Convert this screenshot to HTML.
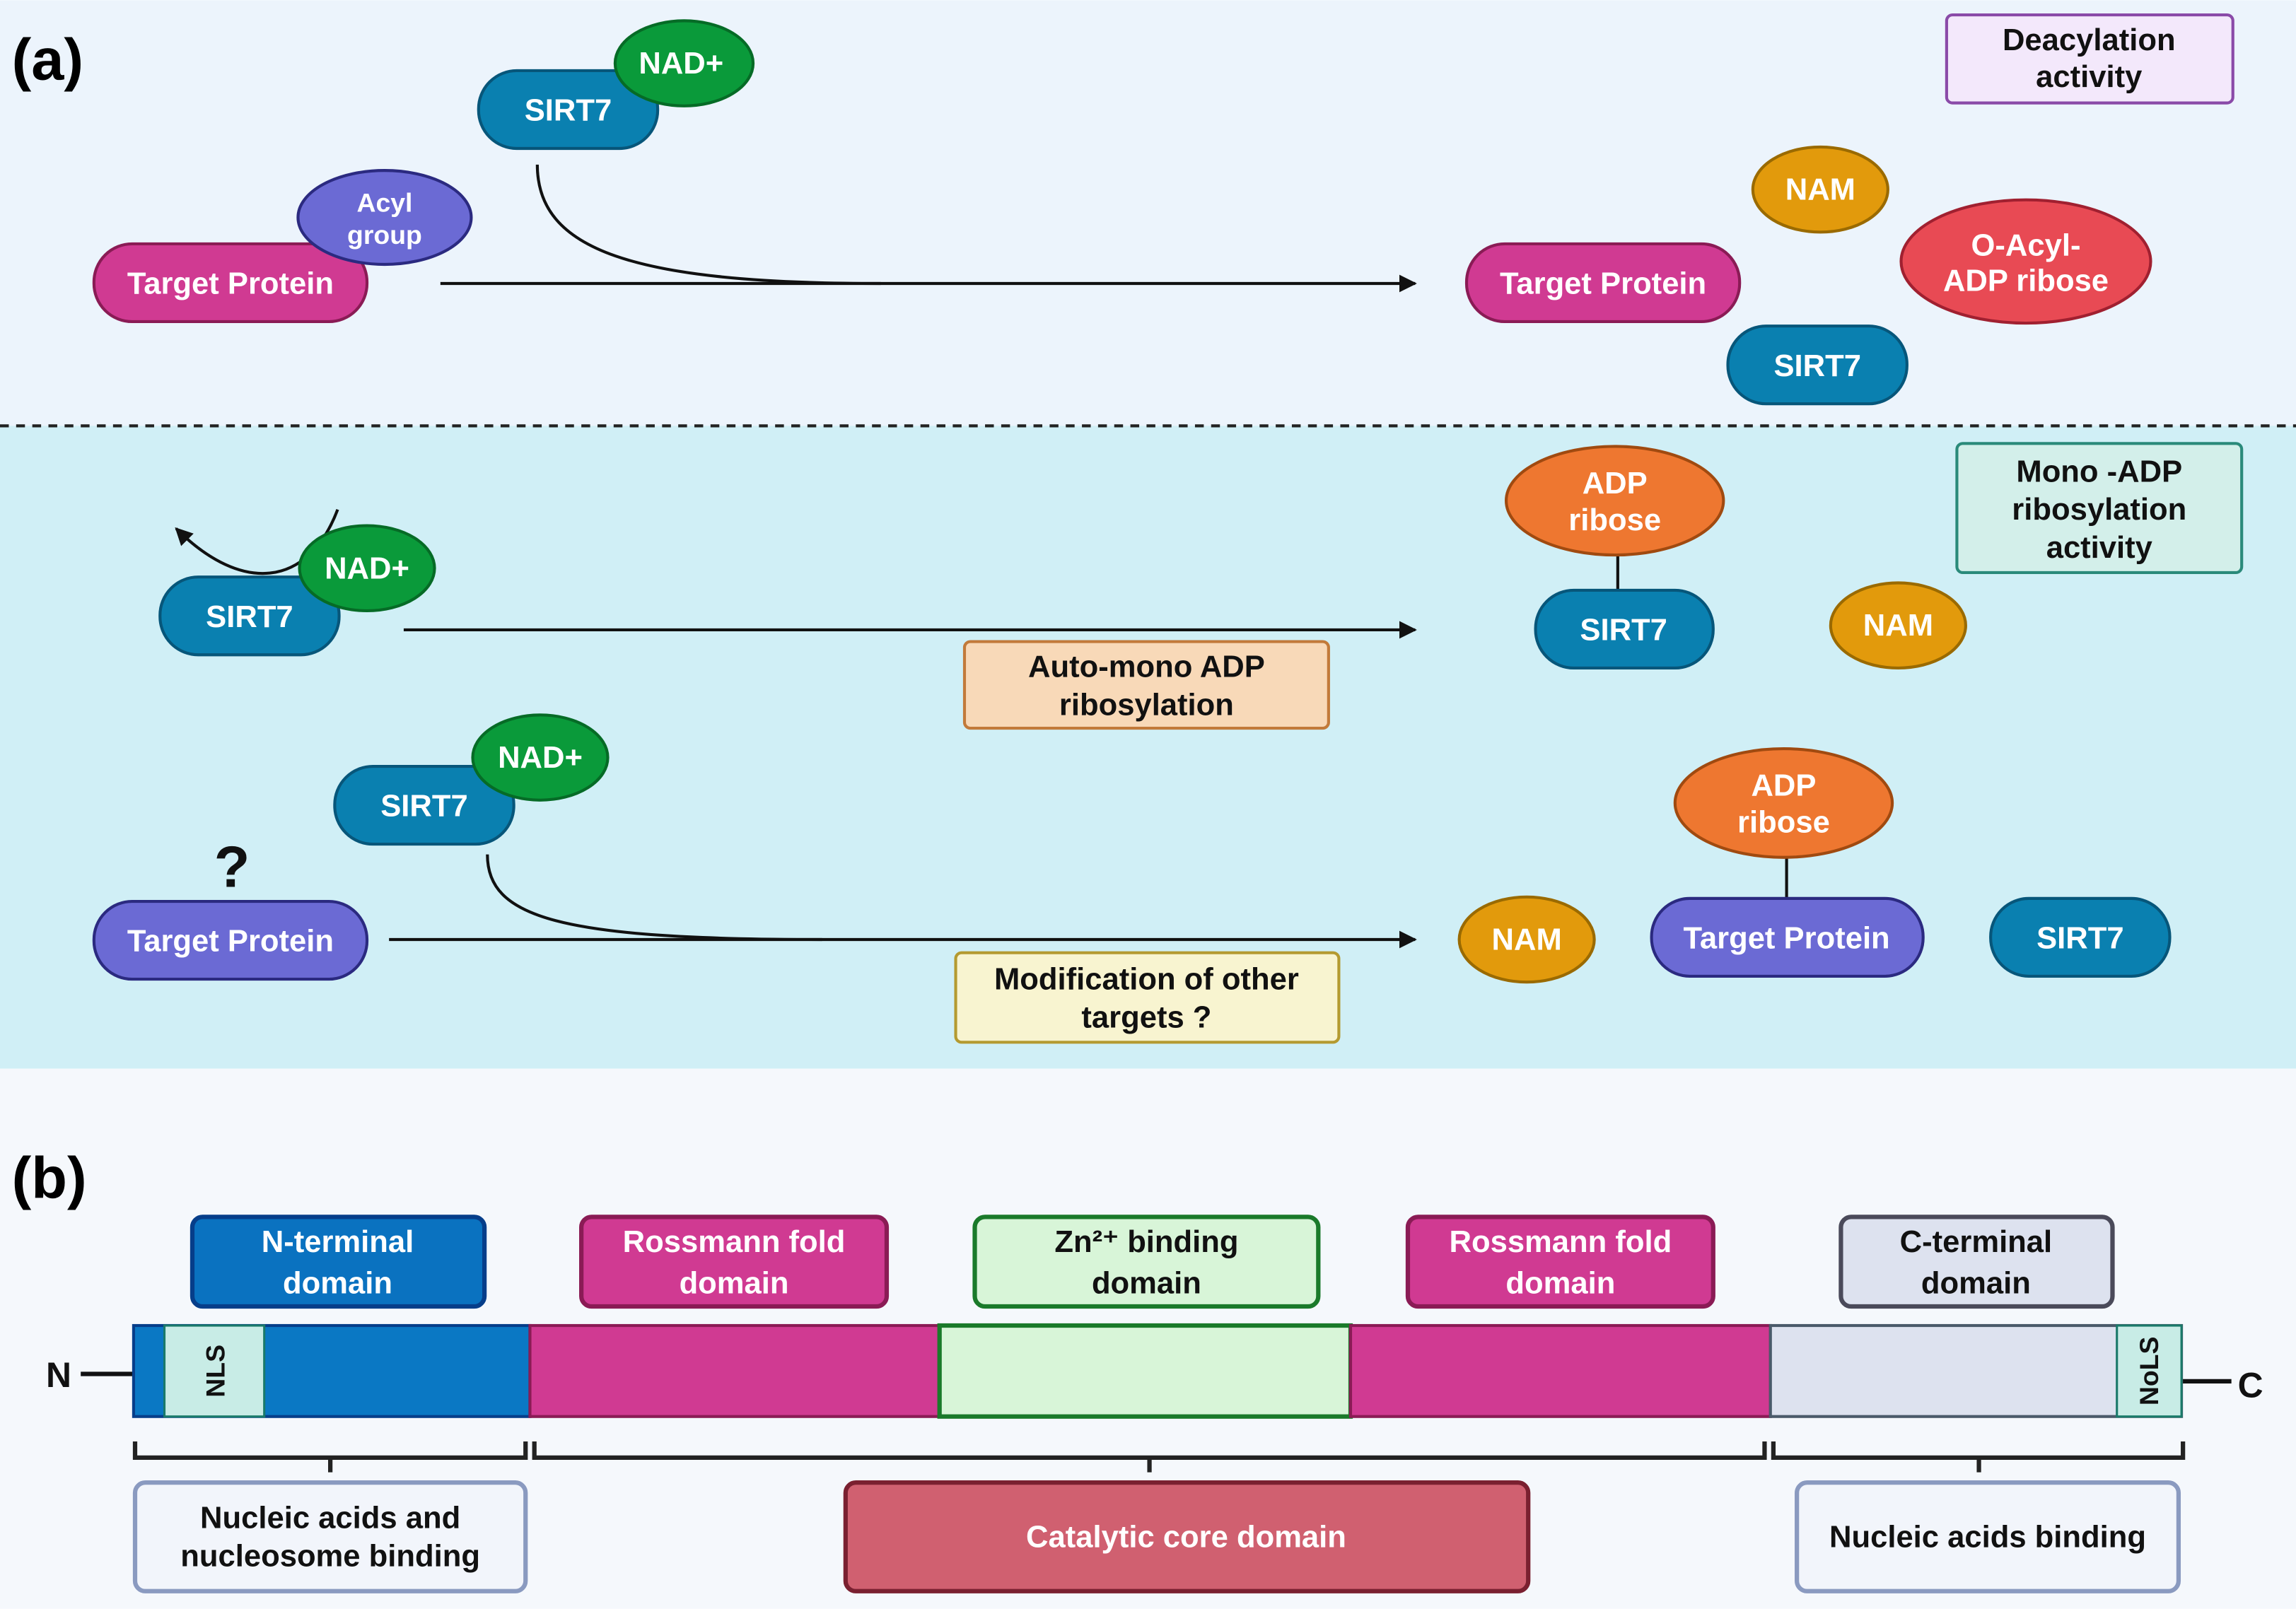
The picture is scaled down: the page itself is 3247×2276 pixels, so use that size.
<!DOCTYPE html>
<html><head><meta charset="utf-8"><style>html,body{margin:0;padding:0}svg{display:block}text{font-family:"Liberation Sans",sans-serif;font-weight:bold}</style></head><body>
<svg width="3247" height="2276" viewBox="0 0 1564 1096" xmlns="http://www.w3.org/2000/svg">
<defs><marker id="ah" viewBox="0 0 10 10" refX="9" refY="5" markerWidth="6" markerHeight="6" orient="auto"><path d="M0,0L10,5L0,10z" fill="#111"/></marker></defs>
<rect x="0" y="0" width="1564" height="290" fill="#ecf4fc"/>
<rect x="0" y="290" width="1564" height="438" fill="#d0eff6"/>
<rect x="0" y="728" width="1564" height="368" fill="#f5f8fc"/>
<line x1="0" y1="290" x2="1564" y2="290" stroke="#222" stroke-width="2" stroke-dasharray="6,5"/>
<text x="8" y="54" font-size="40">(a)</text>
<text x="8" y="816" font-size="40">(b)</text>
<g font-size="21" text-anchor="middle">
<path d="M366,112 C366,170 430,193 600,193" fill="none" stroke="#111" stroke-width="2"/>
<line x1="300" y1="193" x2="964" y2="193" stroke="#111" stroke-width="2" marker-end="url(#ah)"/>
<rect x="326" y="48" width="122" height="53" rx="26" fill="#0a80b0" stroke="#07567a" stroke-width="2"/>
<text x="387" y="82" fill="#fff">SIRT7</text>
<ellipse cx="466" cy="43" rx="47" ry="29" fill="#0a9a3a" stroke="#066b26" stroke-width="2"/>
<text x="464" y="50" fill="#fff">NAD+</text>
<rect x="64" y="166" width="186" height="53" rx="26" fill="#d03a92" stroke="#8a1b55" stroke-width="2"/>
<text x="157" y="200" fill="#fff">Target Protein</text>
<ellipse cx="262" cy="148" rx="59" ry="32" fill="#6b6ad4" stroke="#2b2a80" stroke-width="2"/>
<text x="262" y="144" fill="#fff" font-size="18">Acyl</text>
<text x="262" y="166" fill="#fff" font-size="18">group</text>
<rect x="999" y="166" width="186" height="53" rx="26" fill="#d03a92" stroke="#8a1b55" stroke-width="2"/>
<text x="1092" y="200" fill="#fff">Target Protein</text>
<ellipse cx="1240" cy="129" rx="46" ry="29" fill="#e29a0c" stroke="#9a6a00" stroke-width="2"/>
<text x="1240" y="136" fill="#fff">NAM</text>
<ellipse cx="1380" cy="178" rx="85" ry="42" fill="#e84a54" stroke="#a02030" stroke-width="2"/>
<text x="1380" y="174" fill="#fff">O-Acyl-</text>
<text x="1380" y="198" fill="#fff">ADP ribose</text>
<rect x="1177" y="222" width="122" height="53" rx="26" fill="#0a80b0" stroke="#07567a" stroke-width="2"/>
<text x="1238" y="256" fill="#fff">SIRT7</text>
<rect x="1326" y="10" width="195" height="60" rx="4" fill="#f3e8fb" stroke="#8a4aa8" stroke-width="2"/>
<text x="1423" y="34" fill="#111">Deacylation</text>
<text x="1423" y="59" fill="#111">activity</text>
<path d="M230,347 C210,400 165,405 120,360" fill="none" stroke="#111" stroke-width="2" marker-end="url(#ah)"/>
<line x1="275" y1="429" x2="964" y2="429" stroke="#111" stroke-width="2" marker-end="url(#ah)"/>
<rect x="109" y="393" width="122" height="53" rx="26" fill="#0a80b0" stroke="#07567a" stroke-width="2"/>
<text x="170" y="427" fill="#fff">SIRT7</text>
<ellipse cx="250" cy="387" rx="46" ry="29" fill="#0a9a3a" stroke="#066b26" stroke-width="2"/>
<text x="250" y="394" fill="#fff">NAD+</text>
<rect x="657" y="437" width="248" height="59" rx="4" fill="#f8d9b8" stroke="#c27a3a" stroke-width="2"/>
<text x="781" y="461" fill="#111">Auto-mono ADP</text>
<text x="781" y="487" fill="#111">ribosylation</text>
<line x1="1102" y1="378" x2="1102" y2="402" stroke="#111" stroke-width="2"/>
<ellipse cx="1100" cy="341" rx="74" ry="37" fill="#ee7730" stroke="#a04a10" stroke-width="2"/>
<text x="1100" y="336" fill="#fff">ADP</text>
<text x="1100" y="361" fill="#fff">ribose</text>
<rect x="1046" y="402" width="121" height="53" rx="26" fill="#0a80b0" stroke="#07567a" stroke-width="2"/>
<text x="1106" y="436" fill="#fff">SIRT7</text>
<ellipse cx="1293" cy="426" rx="46" ry="29" fill="#e29a0c" stroke="#9a6a00" stroke-width="2"/>
<text x="1293" y="433" fill="#fff">NAM</text>
<rect x="1333" y="302" width="194" height="88" rx="4" fill="#d3efea" stroke="#2a8a7a" stroke-width="2"/>
<text x="1430" y="328" fill="#111">Mono -ADP</text>
<text x="1430" y="354" fill="#111">ribosylation</text>
<text x="1430" y="380" fill="#111">activity</text>
<path d="M332,582 C332,625 380,640 560,640" fill="none" stroke="#111" stroke-width="2"/>
<line x1="265" y1="640" x2="964" y2="640" stroke="#111" stroke-width="2" marker-end="url(#ah)"/>
<rect x="228" y="522" width="122" height="53" rx="26" fill="#0a80b0" stroke="#07567a" stroke-width="2"/>
<text x="289" y="556" fill="#fff">SIRT7</text>
<ellipse cx="368" cy="516" rx="46" ry="29" fill="#0a9a3a" stroke="#066b26" stroke-width="2"/>
<text x="368" y="523" fill="#fff">NAD+</text>
<text x="158" y="604" font-size="40" fill="#111">?</text>
<rect x="64" y="614" width="186" height="53" rx="26" fill="#6b6ad4" stroke="#2b2a80" stroke-width="2"/>
<text x="157" y="648" fill="#fff">Target Protein</text>
<rect x="651" y="649" width="261" height="61" rx="4" fill="#f8f4d0" stroke="#b49a30" stroke-width="2"/>
<text x="781" y="674" fill="#111">Modification of other</text>
<text x="781" y="700" fill="#111">targets ?</text>
<ellipse cx="1040" cy="640" rx="46" ry="29" fill="#e29a0c" stroke="#9a6a00" stroke-width="2"/>
<text x="1040" y="647" fill="#fff">NAM</text>
<line x1="1217" y1="584" x2="1217" y2="612" stroke="#111" stroke-width="2"/>
<ellipse cx="1215" cy="547" rx="74" ry="37" fill="#ee7730" stroke="#a04a10" stroke-width="2"/>
<text x="1215" y="542" fill="#fff">ADP</text>
<text x="1215" y="567" fill="#fff">ribose</text>
<rect x="1125" y="612" width="185" height="53" rx="26" fill="#6b6ad4" stroke="#2b2a80" stroke-width="2"/>
<text x="1217" y="646" fill="#fff">Target Protein</text>
<rect x="1356" y="612" width="122" height="53" rx="26" fill="#0a80b0" stroke="#07567a" stroke-width="2"/>
<text x="1417" y="646" fill="#fff">SIRT7</text>
<rect x="131" y="829" width="199" height="61" rx="7" fill="#0a72c0" stroke="#063e8a" stroke-width="3"/>
<text x="230" y="853" fill="#fff">N-terminal</text><text x="230" y="881" fill="#fff">domain</text>
<rect x="396" y="829" width="208" height="61" rx="7" fill="#d03a92" stroke="#8a1b55" stroke-width="3"/>
<text x="500" y="853" fill="#fff">Rossmann fold</text><text x="500" y="881" fill="#fff">domain</text>
<rect x="664" y="829" width="234" height="61" rx="7" fill="#d8f5d8" stroke="#1a7a2a" stroke-width="3"/>
<text x="781" y="853" fill="#111">Zn²⁺ binding</text><text x="781" y="881" fill="#111">domain</text>
<rect x="959" y="829" width="208" height="61" rx="7" fill="#d03a92" stroke="#8a1b55" stroke-width="3"/>
<text x="1063" y="853" fill="#fff">Rossmann fold</text><text x="1063" y="881" fill="#fff">domain</text>
<rect x="1254" y="829" width="185" height="61" rx="7" fill="#dde2ef" stroke="#4a4a5a" stroke-width="3"/>
<text x="1346" y="853" fill="#111">C-terminal</text><text x="1346" y="881" fill="#111">domain</text>
<line x1="55" y1="936" x2="91" y2="936" stroke="#111" stroke-width="3"/>
<text x="40" y="945" font-size="24" fill="#111">N</text>
<line x1="1486" y1="941" x2="1520" y2="941" stroke="#111" stroke-width="3"/>
<text x="1533" y="952" font-size="24" fill="#111">C</text>
<rect x="91" y="903" width="270" height="62" fill="#0a78c4" stroke="#063e8a" stroke-width="2"/>
<rect x="112" y="903" width="68" height="62" fill="#c8ece6" stroke="#1a7a6a" stroke-width="1.5"/>
<text transform="translate(153,934) rotate(-90)" font-size="18" fill="#111">NLS</text>
<rect x="361" y="903" width="279" height="62" fill="#d03a92" stroke="#8a1b55" stroke-width="2"/>
<rect x="640" y="903" width="280" height="62" fill="#d8f5d8" stroke="#1a7a2a" stroke-width="3"/>
<rect x="920" y="903" width="286" height="62" fill="#d03a92" stroke="#8a1b55" stroke-width="2"/>
<rect x="1206" y="903" width="280" height="62" fill="#dde2ef" stroke="#4a5a6a" stroke-width="2"/>
<rect x="1442" y="903" width="44" height="62" fill="#c8ece6" stroke="#1a7a6a" stroke-width="1.5"/>
<text transform="translate(1470,934) rotate(-90)" font-size="18" fill="#111">NoLS</text>
<g fill="none" stroke="#222" stroke-width="3">
<path d="M92,982V993H358V982M225,993V1003"/>
<path d="M364,982V993H1202V982M783,993V1003"/>
<path d="M1208,982V993H1487V982M1348,993V1003"/>
</g>
<rect x="92" y="1010" width="266" height="74" rx="7" fill="#f2f5fb" stroke="#8a9ac0" stroke-width="3"/>
<text x="225" y="1041" fill="#111">Nucleic acids and</text><text x="225" y="1067" fill="#111">nucleosome binding</text>
<rect x="576" y="1010" width="465" height="74" rx="7" fill="#d06070" stroke="#7a2030" stroke-width="3"/>
<text x="808" y="1054" fill="#fff">Catalytic core domain</text>
<rect x="1224" y="1010" width="260" height="74" rx="7" fill="#f2f5fb" stroke="#8a9ac0" stroke-width="3"/>
<text x="1354" y="1054" fill="#111">Nucleic acids binding</text>
</g>
</svg>
</body></html>
